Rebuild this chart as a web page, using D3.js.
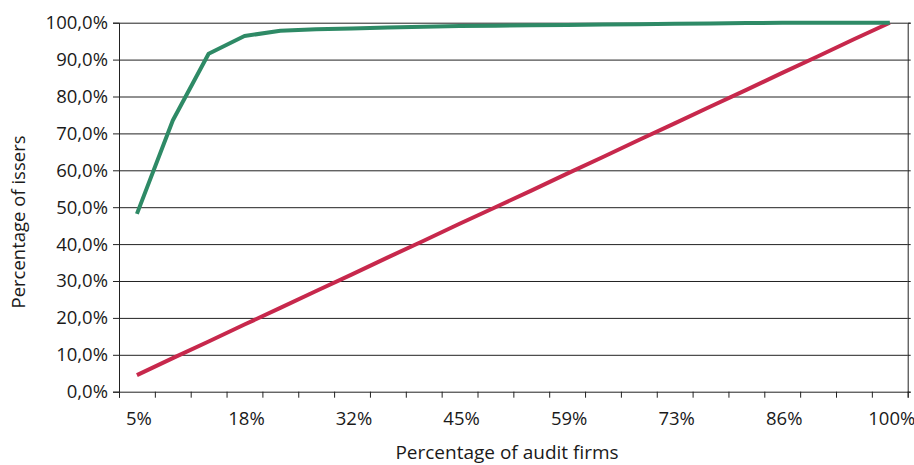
<!DOCTYPE html>
<html><head><meta charset="utf-8">
<script src="https://cdn.jsdelivr.net/npm/d3@7/dist/d3.min.js"></script>
<style>
html,body{margin:0;padding:0;background:#fff;}
svg text{font-family:"Open Sans",sans-serif;fill:#1a1a1a;}
</style></head>
<body>
<svg id="chart" width="914" height="465"></svg>
<script>
const categories = d3.range(1, 23).map(i => i);
const xTickLabels = ["5%","18%","32%","45%","59%","73%","86%","100%"];
const xTickCats = [1,4,7,10,13,16,19,22];
const issuers = [48.2, 73.5, 91.6, 96.4, 97.8, 98.2, 98.4, 98.7, 98.9, 99.1, 99.2, 99.3, 99.4, 99.5, 99.6, 99.7, 99.8, 99.9, 100, 100, 100, 100];
const equality = [4.5, 9.1, 13.6, 18.2, 22.7, 27.3, 31.8, 36.4, 40.9, 45.5, 50.0, 54.5, 59.1, 63.6, 68.2, 72.7, 77.3, 81.8, 86.4, 90.9, 95.5, 100];
const yTicks = [0,10,20,30,40,50,60,70,80,90,100];

const W = 914, H = 465;
const m = {left:119, right:6.3, top:22.7, bottom:73.3};
const svg = d3.select("#chart");
const iw = W - m.left - m.right, ih = H - m.top - m.bottom;
const g = svg.append("g").attr("transform", `translate(${m.left},${m.top})`);

const x = d3.scaleBand().domain(categories).range([0, iw]).paddingInner(0).paddingOuter(0);
const y = d3.scaleLinear().domain([0,100]).range([ih, 0]);
const cx = c => x(c) + x.bandwidth()/2;

// gridlines
g.append("g").selectAll("line").data(yTicks.filter(t=>t>0)).join("line")
  .attr("x1",0).attr("x2",iw).attr("y1",d=>y(d)+0.5).attr("y2",d=>y(d)+0.5)
  .attr("stroke","#222").attr("stroke-width",1);

// y axis
const fmt = d => d3.format(".1f")(d).replace(".", ",") + "%";
const ya = g.append("g").call(d3.axisLeft(y).tickValues(yTicks).tickFormat(fmt).tickSize(6).tickPadding(5));
ya.select(".domain").attr("stroke","#222");
ya.selectAll(".tick line").attr("stroke","#222");
ya.selectAll("text").style("font-size","18.5px").style("font-family","'Open Sans',sans-serif").attr("fill","#1a1a1a");

// right axis (no labels)
const yr = g.append("g").attr("transform",`translate(${iw},0)`).call(d3.axisRight(y).tickValues(yTicks).tickFormat("").tickSize(3));
yr.select(".domain").attr("stroke","#222");
yr.selectAll(".tick line").attr("stroke","#222");

// x axis: ticks at category boundaries
const bounds = d3.range(0, categories.length + 1).map(i => i * x.step());
const xb = d3.scaleLinear().domain([0, iw]).range([0, iw]);
const xa = g.append("g").attr("transform",`translate(0,${ih})`)
  .call(d3.axisBottom(xb).tickValues(bounds).tickFormat("").tickSize(6));
xa.select(".domain").attr("stroke","#222");
xa.selectAll(".tick line").attr("stroke","#222");

g.append("g").selectAll("text").data(xTickCats).join("text")
  .attr("x", (d,i) => cx(d) + 2).attr("y", ih + 33)
  .attr("text-anchor","middle").style("font-size","18.5px")
  .text((d,i) => xTickLabels[i]);

// lines
const line = d3.line().x((d,i) => cx(categories[i])).y(d => y(d));
g.append("path").datum(equality).attr("d", line).attr("fill","none")
  .attr("stroke","#c7284c").attr("stroke-width",4).attr("stroke-linejoin","round");
g.append("path").datum(issuers).attr("d", line).attr("fill","none")
  .attr("stroke","#2e8a66").attr("stroke-width",4).attr("stroke-linejoin","round");

// titles
svg.append("text").attr("x", 507).attr("y", 459).attr("text-anchor","middle")
  .style("font-size","19px").text("Percentage of audit firms");
svg.append("text").attr("transform", `translate(25,222) rotate(-90)`).attr("text-anchor","middle")
  .style("font-size","18.5px").text("Percentage of issers");
</script>
</body></html>
